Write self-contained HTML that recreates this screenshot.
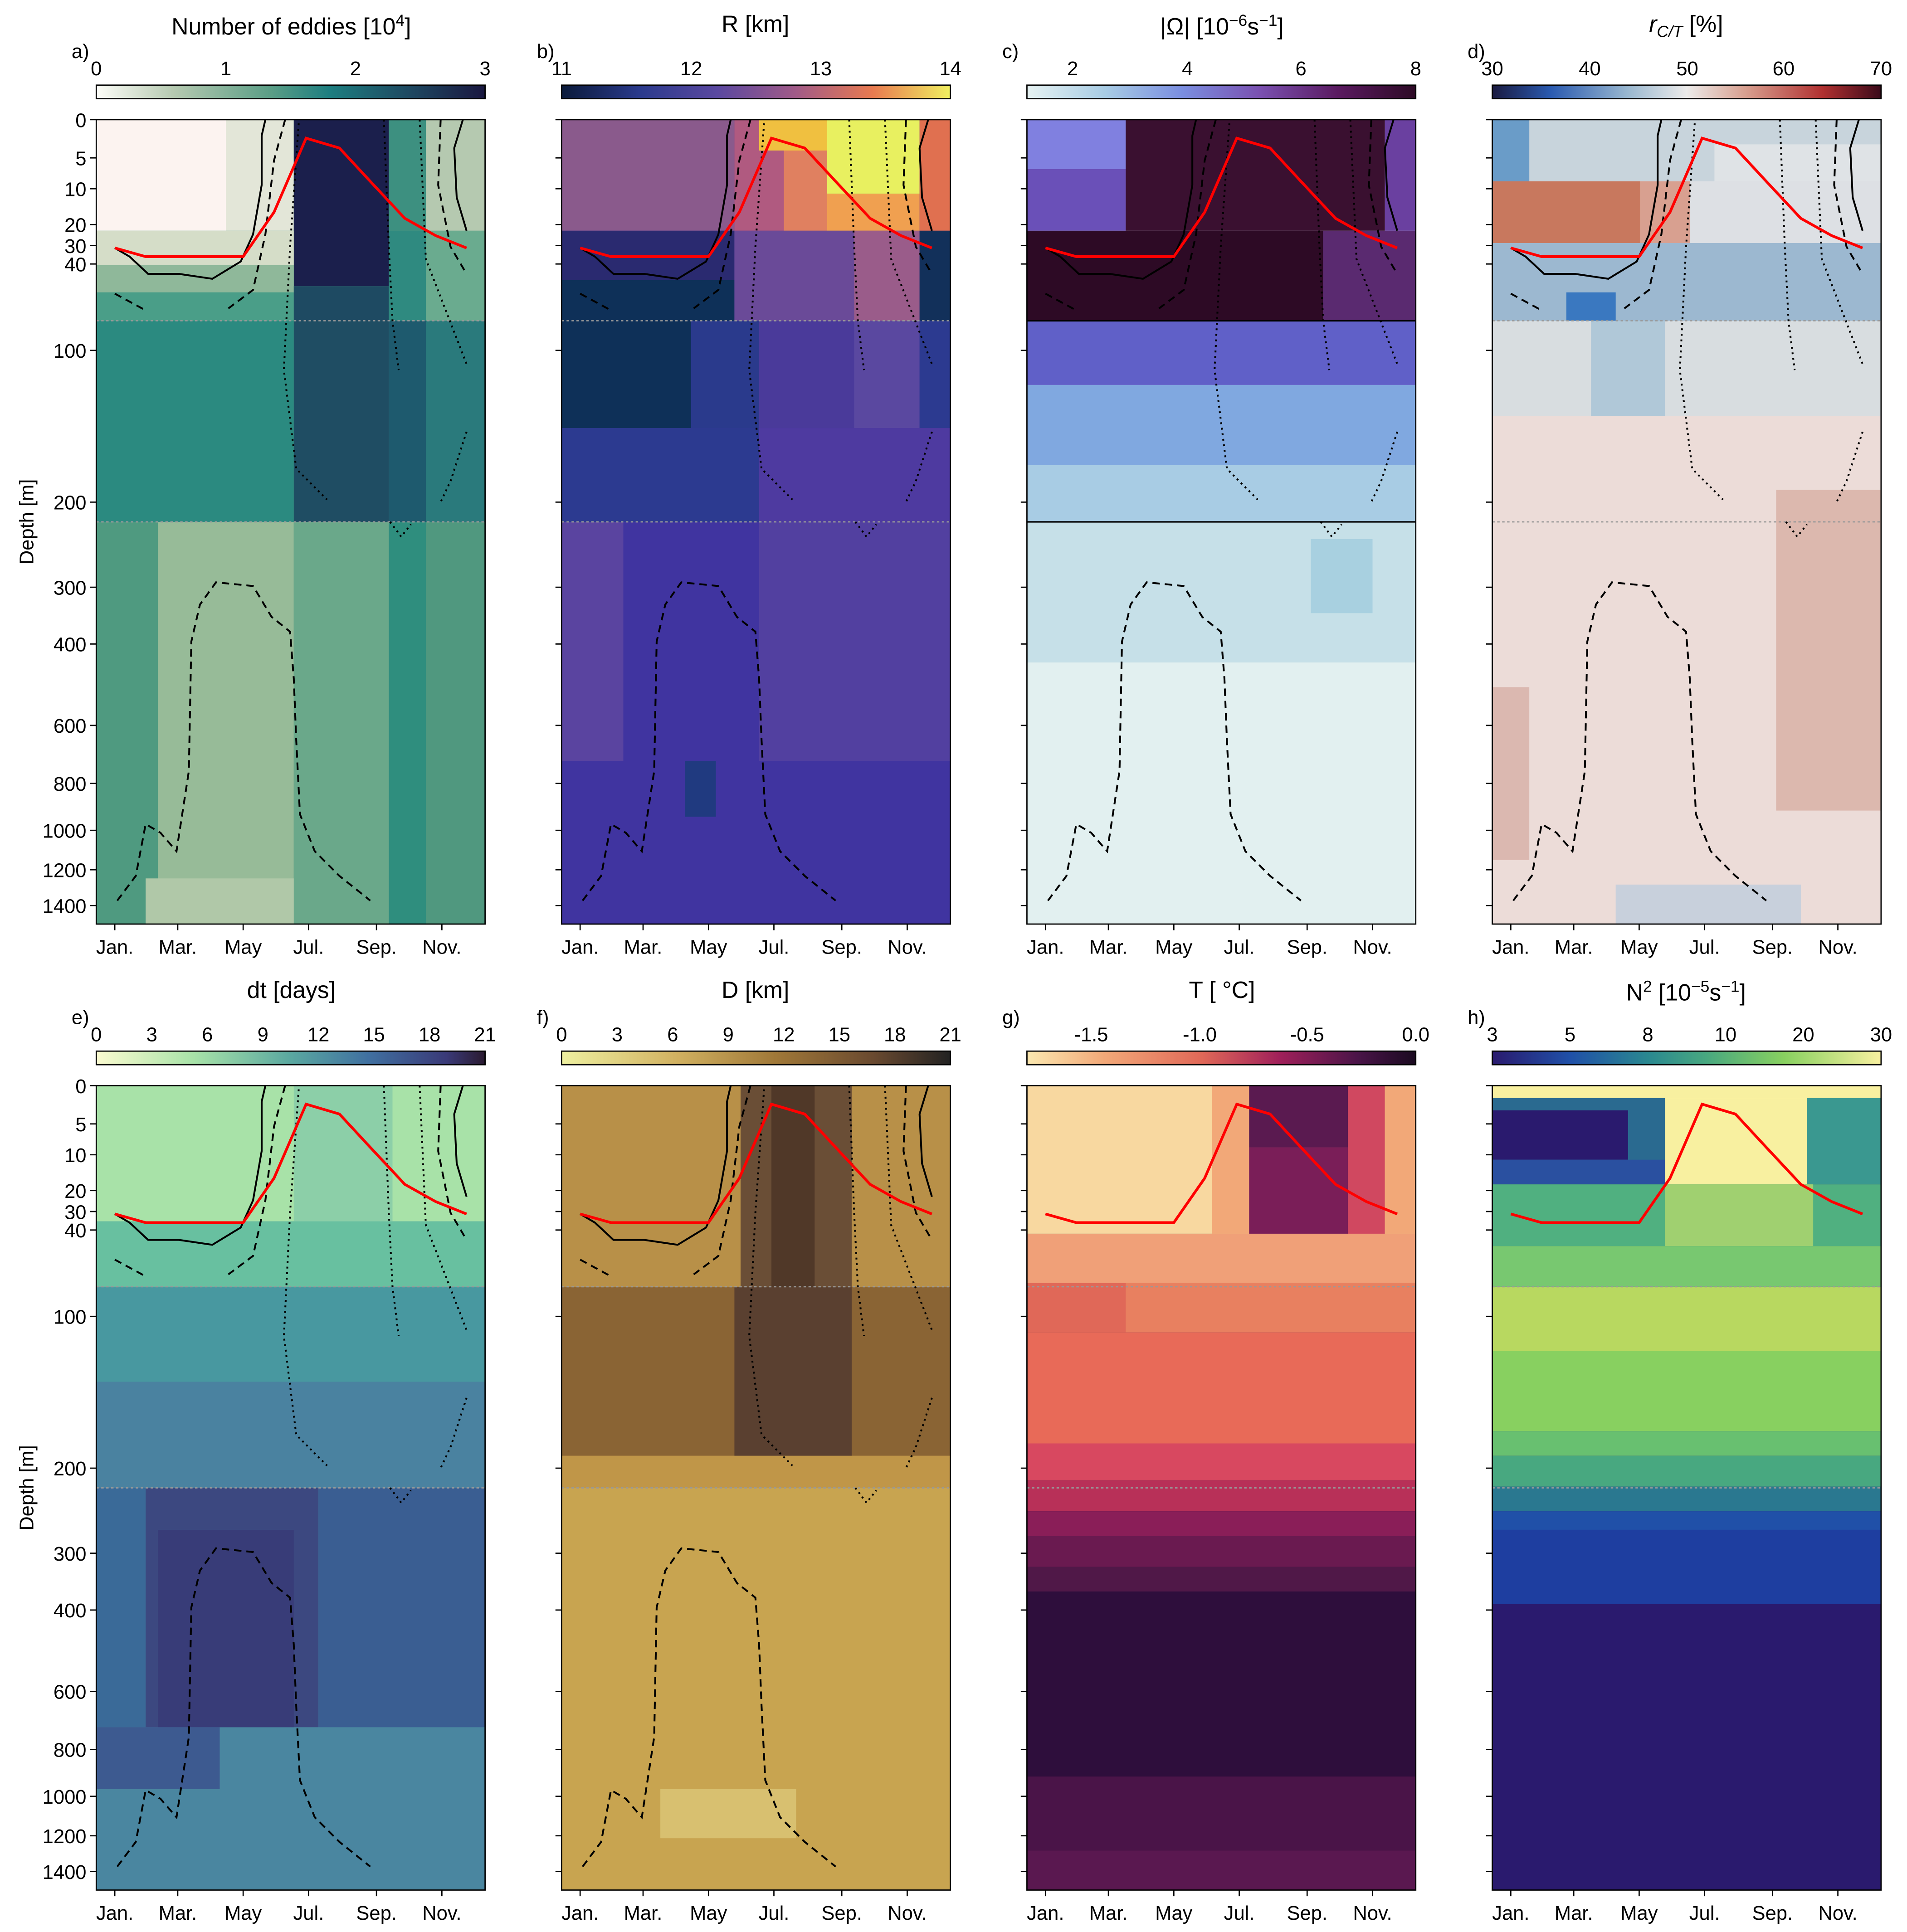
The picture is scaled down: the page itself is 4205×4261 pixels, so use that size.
<!DOCTYPE html>
<html><head><meta charset="utf-8"><style>html,body{margin:0;padding:0;background:#fff}svg{display:block}text{font-family:"Liberation Sans","DejaVu Sans",sans-serif;fill:#000}</style></head><body>
<svg xmlns="http://www.w3.org/2000/svg" width="4205" height="4261" viewBox="0 0 1545 1566" preserveAspectRatio="none">
<defs>
<linearGradient id="ga"><stop offset="0" stop-color="#fdfdf8"/><stop offset=".2" stop-color="#b5c9b0"/><stop offset=".45" stop-color="#5a9e86"/><stop offset=".6" stop-color="#1d7e80"/><stop offset=".8" stop-color="#1e4a62"/><stop offset="1" stop-color="#1a1740"/></linearGradient>
<linearGradient id="gb"><stop offset="0" stop-color="#0a1a3a"/><stop offset=".2" stop-color="#2a3a8c"/><stop offset=".4" stop-color="#5a48a0"/><stop offset=".6" stop-color="#a05a88"/><stop offset=".8" stop-color="#e87a50"/><stop offset="1" stop-color="#f0f060"/></linearGradient>
<linearGradient id="gc"><stop offset="0" stop-color="#e6f2f2"/><stop offset=".2" stop-color="#a8cce4"/><stop offset=".4" stop-color="#7a8ee0"/><stop offset=".6" stop-color="#7a50b0"/><stop offset=".8" stop-color="#5a1a60"/><stop offset="1" stop-color="#2d0a25"/></linearGradient>
<linearGradient id="gd"><stop offset="0" stop-color="#1a1a40"/><stop offset=".15" stop-color="#2a5ab0"/><stop offset=".35" stop-color="#9ab8d0"/><stop offset=".5" stop-color="#ecebea"/><stop offset=".65" stop-color="#d8a090"/><stop offset=".85" stop-color="#b03030"/><stop offset="1" stop-color="#3a0a1a"/></linearGradient>
<linearGradient id="ge"><stop offset="0" stop-color="#fbfbd0"/><stop offset=".25" stop-color="#a8e2a8"/><stop offset=".5" stop-color="#5aa8a0"/><stop offset=".7" stop-color="#4070a0"/><stop offset=".9" stop-color="#3a3a78"/><stop offset="1" stop-color="#2a1a30"/></linearGradient>
<linearGradient id="gf"><stop offset="0" stop-color="#eef0a0"/><stop offset=".3" stop-color="#d0b060"/><stop offset=".55" stop-color="#a07838"/><stop offset=".8" stop-color="#6a4a30"/><stop offset="1" stop-color="#222"/></linearGradient>
<linearGradient id="gg"><stop offset="0" stop-color="#fbe8b0"/><stop offset=".2" stop-color="#f2a878"/><stop offset=".45" stop-color="#e06858"/><stop offset=".65" stop-color="#a0205a"/><stop offset=".85" stop-color="#4a1448"/><stop offset="1" stop-color="#1a0a20"/></linearGradient>
<linearGradient id="gh"><stop offset="0" stop-color="#2a1a6e"/><stop offset=".2" stop-color="#2050a8"/><stop offset=".4" stop-color="#2a8890"/><stop offset=".55" stop-color="#48a880"/><stop offset=".75" stop-color="#88d060"/><stop offset="1" stop-color="#f8f0a0"/></linearGradient>
<g id="red"><polyline fill="none" stroke="#f00" stroke-width="2.2" points="15,104 40,111 66,111 92,111 119,111 144,75 170,15 197,23 222,50 250,80 275,94 300,104"/></g>
<g id="cont" fill="none" stroke="#000" stroke-width="1.5">
<polyline points="15,104 27,111 42,125 67,125 94,129 117,115 127,93 134,53 134,13 137,0"/>
<polyline stroke-dasharray="6,4" points="153,0 144,33 137,93 127,138 107,153"/>
<polyline stroke-dasharray="6,4" points="15,141 39,154"/>
<polyline stroke-dasharray="1.5,3" points="164,3 157,103 152,203 162,283 187,308"/>
<polyline stroke-dasharray="1.5,3" points="233,0 237,103 240,163 245,203"/>
<polyline points="297,0 290,23 292,63 300,90"/>
<polyline stroke-dasharray="6,4" points="279,0 277,53 287,103 300,125"/>
<polyline stroke-dasharray="1.5,3" points="262,0 267,113 300,198"/>
<polyline stroke-dasharray="1.5,3" points="300,253 287,293 279,310"/>
<polyline stroke-dasharray="1.5,3" points="238,326 247,338 255,328"/>
<polyline stroke-dasharray="6,4" points="17,633 32,613 40,571 52,578 65,593 75,528 77,423 84,393 97,375 127,378 142,403 157,415 160,453 162,503 165,563 177,593 197,613 222,633"/>
</g>
<g id="hl" stroke="#999" stroke-width="1" stroke-dasharray="2,2"><line x1="0" y1="163" x2="315" y2="163"/><line x1="0" y1="326" x2="315" y2="326"/></g>
<g id="ax" fill="none" stroke="#000" stroke-width="1">
<rect x="0" y="0" width="315" height="652"/>
<path d="M15,652v5M66,652v5M119,652v5M172,652v5M227,652v5M280,652v5M0,0h-5M0,31h-5M0,56h-5M0,85h-5M0,102h-5M0,117h-5M0,187h-5M0,310h-5M0,379h-5M0,425h-5M0,491h-5M0,538h-5M0,576h-5M0,608h-5M0,637h-5"/>
</g>
<g id="mon" font-size="16" text-anchor="middle"><text x="15" y="676">Jan.</text><text x="66" y="676">Mar.</text><text x="119" y="676">May</text><text x="172" y="676">Jul.</text><text x="227" y="676">Sep.</text><text x="280" y="676">Nov.</text></g>
<g id="dep" font-size="16" text-anchor="end"><text x="-8" y="6">0</text><text x="-8" y="37">5</text><text x="-8" y="62">10</text><text x="-8" y="91">20</text><text x="-8" y="108">30</text><text x="-8" y="123">40</text><text x="-8" y="193">100</text><text x="-8" y="316">200</text><text x="-8" y="385">300</text><text x="-8" y="431">400</text><text x="-8" y="497">600</text><text x="-8" y="544">800</text><text x="-8" y="582">1000</text><text x="-8" y="614">1200</text><text x="-8" y="643">1400</text></g>
</defs>

<!-- Panel a -->
<g transform="translate(78,97)">
<rect width="315" height="652" fill="#5a9e86"/>
<rect x="0" y="0" width="105" height="90" fill="#fcf3f0"/><rect x="105" y="0" width="55" height="90" fill="#e3e6d8"/>
<rect x="160" y="0" width="77" height="135" fill="#1b1f4c"/><rect x="237" y="0" width="30" height="90" fill="#3d9080"/><rect x="267" y="0" width="48" height="90" fill="#b5c9b0"/>
<rect x="0" y="90" width="160" height="28" fill="#d5ddc8"/><rect x="0" y="118" width="160" height="22" fill="#8fb89a"/><rect x="0" y="140" width="160" height="23" fill="#4a9e88"/>
<rect x="160" y="135" width="77" height="28" fill="#1e4a62"/><rect x="237" y="90" width="30" height="73" fill="#2f8a80"/><rect x="267" y="90" width="48" height="73" fill="#6aab8f"/>
<rect x="0" y="163" width="160" height="163" fill="#2b8a80"/><rect x="160" y="163" width="77" height="163" fill="#1f4d63"/><rect x="237" y="163" width="30" height="163" fill="#1e5a6e"/><rect x="267" y="163" width="48" height="163" fill="#2a7a7c"/>
<rect x="0" y="326" width="50" height="326" fill="#4f9a80"/><rect x="50" y="326" width="110" height="326" fill="#97bb98"/><rect x="160" y="326" width="77" height="326" fill="#6aa88a"/><rect x="237" y="326" width="30" height="326" fill="#2f8e7e"/><rect x="267" y="326" width="48" height="326" fill="#50987f"/>
<rect x="40" y="615" width="120" height="37" fill="#b0c8a8"/>
<use href="#hl"/><use href="#cont"/><use href="#red"/><use href="#ax"/><use href="#mon"/><use href="#dep"/>
</g>
<!-- Panel b -->
<g transform="translate(455,97)">
<rect width="315" height="652" fill="#4034a0"/>
<rect x="0" y="0" width="140" height="90" fill="#8a5a8c"/><rect x="140" y="0" width="40" height="90" fill="#b05a80"/><rect x="180" y="0" width="35" height="90" fill="#e08060"/><rect x="160" y="0" width="55" height="25" fill="#f0c040"/>
<rect x="215" y="0" width="75" height="60" fill="#e8f060"/><rect x="215" y="60" width="75" height="30" fill="#f0a050"/><rect x="290" y="0" width="25" height="90" fill="#e07050"/>
<rect x="0" y="90" width="140" height="40" fill="#2a2a70"/><rect x="0" y="130" width="140" height="33" fill="#0e3058"/><rect x="140" y="90" width="97" height="73" fill="#6a4a98"/><rect x="237" y="90" width="53" height="73" fill="#9a5c8a"/><rect x="290" y="90" width="25" height="73" fill="#12305a"/>
<rect x="0" y="163" width="105" height="87" fill="#0e3058"/><rect x="105" y="163" width="55" height="87" fill="#2a3a8c"/><rect x="160" y="163" width="77" height="87" fill="#4a3a9a"/><rect x="237" y="163" width="53" height="87" fill="#5a48a0"/><rect x="290" y="163" width="25" height="87" fill="#2c3a90"/>
<rect x="0" y="250" width="160" height="76" fill="#2c3a90"/><rect x="160" y="250" width="155" height="76" fill="#4e3aa0"/>
<rect x="0" y="326" width="50" height="194" fill="#5a44a0"/><rect x="160" y="326" width="155" height="194" fill="#5240a0"/><rect x="100" y="520" width="25" height="45" fill="#203a80"/>
<use href="#hl"/><use href="#cont"/><use href="#red"/><use href="#ax"/><use href="#mon"/>
</g>
<!-- Panel c -->
<g transform="translate(832,97)">
<rect width="315" height="652" fill="#e2f0f0"/>
<rect x="0" y="0" width="80" height="40" fill="#8080e0"/><rect x="0" y="40" width="80" height="50" fill="#6a50b8"/><rect x="80" y="0" width="210" height="90" fill="#3a1030"/><rect x="290" y="0" width="25" height="90" fill="#6a40a0"/>
<rect x="0" y="90" width="240" height="73" fill="#2d0a25"/><rect x="240" y="90" width="75" height="73" fill="#5a2a70"/>
<rect x="0" y="163" width="315" height="52" fill="#6060c8"/><rect x="0" y="215" width="315" height="65" fill="#80a8e0"/><rect x="0" y="280" width="315" height="46" fill="#a8cce4"/>
<rect x="0" y="326" width="315" height="114" fill="#c6e0e8"/><rect x="230" y="340" width="50" height="60" fill="#a8d0e0"/>
<g stroke="#000" stroke-width="1.2"><line x1="0" y1="163" x2="315" y2="163"/><line x1="0" y1="326" x2="315" y2="326"/></g>
<use href="#cont"/><use href="#red"/><use href="#ax"/><use href="#mon"/>
</g>
<!-- Panel d -->
<g transform="translate(1209,97)">
<rect width="315" height="652" fill="#ecdcd8"/>
<rect x="0" y="0" width="315" height="50" fill="#c8d4dc"/><rect x="0" y="0" width="30" height="50" fill="#6a9cc8"/><rect x="180" y="20" width="135" height="30" fill="#dfe3e6"/>
<rect x="0" y="50" width="120" height="50" fill="#c8785e"/><rect x="120" y="50" width="40" height="50" fill="#d8a090"/><rect x="160" y="50" width="155" height="50" fill="#dde0e4"/>
<rect x="0" y="100" width="315" height="63" fill="#9cb8d0"/><rect x="60" y="140" width="40" height="23" fill="#3a78c0"/>
<rect x="0" y="163" width="315" height="77" fill="#d8dde0"/><rect x="80" y="163" width="60" height="77" fill="#b0c8d8"/>
<rect x="0" y="460" width="30" height="140" fill="#dbb8b0"/><rect x="230" y="300" width="85" height="260" fill="#dcb8ae"/><rect x="100" y="620" width="150" height="32" fill="#c8d0dc"/>
<use href="#hl"/><use href="#cont"/><use href="#red"/><use href="#ax"/><use href="#mon"/>
</g>
<!-- Panel e -->
<g transform="translate(78,880)">
<rect width="315" height="652" fill="#4a86a0"/>
<rect x="0" y="0" width="315" height="110" fill="#a8e2a8"/><rect x="160" y="0" width="80" height="110" fill="#8ccfa8"/>
<rect x="0" y="110" width="315" height="53" fill="#68c0a0"/><rect x="0" y="163" width="315" height="77" fill="#4898a0"/><rect x="0" y="240" width="315" height="86" fill="#4a82a0"/>
<rect x="0" y="326" width="40" height="194" fill="#3a6a98"/><rect x="40" y="326" width="140" height="194" fill="#3c4880"/><rect x="50" y="360" width="110" height="160" fill="#383c78"/><rect x="180" y="326" width="135" height="194" fill="#3a5e92"/>
<rect x="0" y="520" width="100" height="50" fill="#3d5a90"/>
<use href="#hl"/><use href="#cont"/><use href="#red"/><use href="#ax"/><use href="#mon"/><use href="#dep"/>
</g>
<!-- Panel f -->
<g transform="translate(455,880)">
<rect width="315" height="652" fill="#c8a450"/>
<rect x="0" y="0" width="315" height="163" fill="#b89048"/><rect x="145" y="0" width="90" height="163" fill="#6a4e36"/><rect x="170" y="0" width="35" height="163" fill="#503828"/>
<rect x="0" y="163" width="315" height="137" fill="#8a6434"/><rect x="140" y="163" width="95" height="137" fill="#5a4030"/>
<rect x="0" y="300" width="315" height="26" fill="#c09648"/><rect x="80" y="570" width="110" height="40" fill="#d8c070"/>
<use href="#hl"/><use href="#cont"/><use href="#red"/><use href="#ax"/><use href="#mon"/>
</g>
<!-- Panel g -->
<g transform="translate(832,880)">
<rect width="315" height="652" fill="#2e0e3c"/>
<rect x="0" y="0" width="315" height="120" fill="#f8d8a0"/><rect x="150" y="0" width="30" height="120" fill="#f2a878"/><rect x="180" y="0" width="80" height="50" fill="#5a1a50"/><rect x="180" y="50" width="80" height="70" fill="#7a1e58"/><rect x="260" y="0" width="30" height="120" fill="#d04860"/><rect x="290" y="0" width="25" height="120" fill="#f2a878"/>
<rect x="0" y="120" width="315" height="40" fill="#f0a078"/><rect x="0" y="160" width="315" height="40" fill="#e88060"/><rect x="0" y="160" width="80" height="40" fill="#e06858"/>
<rect x="0" y="200" width="315" height="90" fill="#e86a58"/><rect x="0" y="290" width="315" height="30" fill="#d84860"/><rect x="0" y="320" width="315" height="25" fill="#b83058"/><rect x="0" y="345" width="315" height="20" fill="#8a1e58"/><rect x="0" y="365" width="315" height="25" fill="#6a1a50"/><rect x="0" y="390" width="315" height="20" fill="#501848"/>
<rect x="0" y="560" width="315" height="60" fill="#4a1448"/><rect x="0" y="620" width="315" height="32" fill="#5a1850"/>
<use href="#hl"/><use href="#red"/><use href="#ax"/><use href="#mon"/>
</g>
<!-- Panel h -->
<g transform="translate(1209,880)">
<rect width="315" height="652" fill="#2a1a6e"/>
<rect x="0" y="0" width="315" height="10" fill="#f8f0a0"/><rect x="0" y="10" width="315" height="70" fill="#2a6a90"/><rect x="0" y="20" width="110" height="40" fill="#2a1a6e"/><rect x="0" y="60" width="150" height="20" fill="#2a50a0"/><rect x="140" y="10" width="115" height="70" fill="#f8f0a0"/><rect x="255" y="10" width="60" height="70" fill="#3a9890"/>
<rect x="0" y="80" width="315" height="50" fill="#50b080"/><rect x="140" y="80" width="120" height="50" fill="#a0d070"/><rect x="0" y="130" width="315" height="33" fill="#78c870"/>
<rect x="0" y="163" width="315" height="52" fill="#b8d860"/><rect x="0" y="215" width="315" height="65" fill="#88d060"/><rect x="0" y="280" width="315" height="20" fill="#68c070"/><rect x="0" y="300" width="315" height="25" fill="#48a880"/><rect x="0" y="325" width="315" height="20" fill="#2a7890"/><rect x="0" y="345" width="315" height="15" fill="#2050a8"/><rect x="0" y="360" width="315" height="60" fill="#1e3ea0"/>
<use href="#hl"/><use href="#red"/><use href="#ax"/><use href="#mon"/>
</g>

<!-- Colorbars -->
<g font-size="16" text-anchor="middle">
<rect x="78" y="69" width="315" height="11" fill="url(#ga)" stroke="#000"/>
<text x="78" y="61">0</text><text x="183" y="61">1</text><text x="288" y="61">2</text><text x="393" y="61">3</text>
<rect x="455" y="69" width="315" height="11" fill="url(#gb)" stroke="#000"/>
<text x="455" y="61">11</text><text x="560" y="61">12</text><text x="665" y="61">13</text><text x="770" y="61">14</text>
<rect x="832" y="69" width="315" height="11" fill="url(#gc)" stroke="#000"/>
<text x="869" y="61">2</text><text x="962" y="61">4</text><text x="1054" y="61">6</text><text x="1147" y="61">8</text>
<rect x="1209" y="69" width="315" height="11" fill="url(#gd)" stroke="#000"/>
<text x="1209" y="61">30</text><text x="1288" y="61">40</text><text x="1367" y="61">50</text><text x="1445" y="61">60</text><text x="1524" y="61">70</text>
<rect x="78" y="852" width="315" height="11" fill="url(#ge)" stroke="#000"/>
<text x="78" y="844">0</text><text x="123" y="844">3</text><text x="168" y="844">6</text><text x="213" y="844">9</text><text x="258" y="844">12</text><text x="303" y="844">15</text><text x="348" y="844">18</text><text x="393" y="844">21</text>
<rect x="455" y="852" width="315" height="11" fill="url(#gf)" stroke="#000"/>
<text x="455" y="844">0</text><text x="500" y="844">3</text><text x="545" y="844">6</text><text x="590" y="844">9</text><text x="635" y="844">12</text><text x="680" y="844">15</text><text x="725" y="844">18</text><text x="770" y="844">21</text>
<rect x="832" y="852" width="315" height="11" fill="url(#gg)" stroke="#000"/>
<text x="884" y="844">-1.5</text><text x="972" y="844">-1.0</text><text x="1059" y="844">-0.5</text><text x="1147" y="844">0.0</text>
<rect x="1209" y="852" width="315" height="11" fill="url(#gh)" stroke="#000"/>
<text x="1209" y="844">3</text><text x="1272" y="844">5</text><text x="1335" y="844">8</text><text x="1398" y="844">10</text><text x="1461" y="844">20</text><text x="1524" y="844">30</text>
</g>
<!-- Titles -->
<g font-size="19" text-anchor="middle">
<text x="236" y="28">Number of eddies [10<tspan dy="-7" font-size="13">4</tspan><tspan dy="7">]</tspan></text>
<text x="612" y="26">R [km]</text>
<text x="990" y="28">|Ω| [10<tspan dy="-7" font-size="13">−6</tspan><tspan dy="7">s</tspan><tspan dy="-7" font-size="13">−1</tspan><tspan dy="7">]</tspan></text>
<text x="1366" y="26"><tspan font-style="italic">r</tspan><tspan font-style="italic" font-size="13" dy="4">C/T</tspan><tspan dy="-4"> [%]</tspan></text>
<text x="236" y="809">dt [days]</text>
<text x="612" y="809">D [km]</text>
<text x="990" y="809">T [ °C]</text>
<text x="1366" y="811">N<tspan dy="-7" font-size="13">2</tspan><tspan dy="7"> [10</tspan><tspan dy="-7" font-size="13">−5</tspan><tspan dy="7">s</tspan><tspan dy="-7" font-size="13">−1</tspan><tspan dy="7">]</tspan></text>
</g>
<g font-size="16">
<text x="58" y="47">a)</text><text x="435" y="47">b)</text><text x="812" y="47">c)</text><text x="1189" y="47">d)</text>
<text x="58" y="830">e)</text><text x="435" y="830">f)</text><text x="812" y="830">g)</text><text x="1189" y="830">h)</text>
<text transform="translate(27,423) rotate(-90)" text-anchor="middle">Depth [m]</text>
<text transform="translate(27,1206) rotate(-90)" text-anchor="middle">Depth [m]</text>
</g>
</svg>
</body></html>
